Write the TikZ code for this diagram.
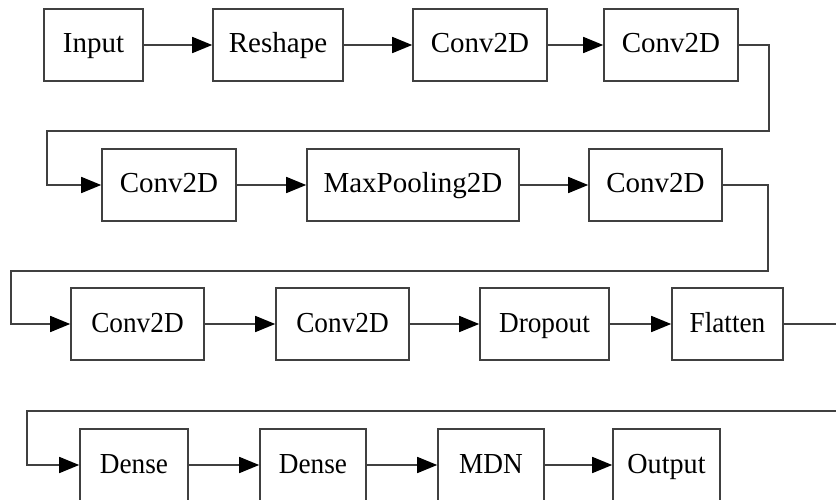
\documentclass[tikz,border=0pt]{standalone}
\usepackage{fontspec}
\setmainfont{Liberation Serif}
\newfontfamily\lserif{Liberation Serif}
\usetikzlibrary{arrows.meta}
\tikzset{
  layer/.style={draw=black!75, line width=1.6pt, rectangle, minimum height=72pt, inner sep=0pt,
    text height=21pt, text depth=5pt,
    font=\lserif\fontsize{29}{32}\selectfont, text=black},
  conn/.style={draw=black!75, line width=1.6pt, -{Triangle[length=20pt,width=16pt,fill=black,color=black]}},
}
\newcommand{\nr}[1]{\scalebox{0.94}[1]{#1}}
\begin{document}
\begin{tikzpicture}[x=1pt,y=-1pt]
\useasboundingbox (0,0) rectangle (836,500);
\clip (0,0) rectangle (836,500);
% row 1
\node[layer, minimum width=99pt]  (in)  at (93.5,45) {Input};
\node[layer, minimum width=130pt] (rs)  at (278,45) {Reshape};
\node[layer, minimum width=134pt] (c1)  at (480,45) {Conv2D};
\node[layer, minimum width=134pt] (c2)  at (671,45) {Conv2D};
% row 2
\node[layer, minimum width=134pt] (c3)  at (169,185) {Conv2D};
\node[layer, minimum width=212pt] (mp)  at (413,185) {MaxPooling2D};
\node[layer, minimum width=133pt] (c4)  at (655.5,185) {Conv2D};
% row 3
\node[layer, minimum width=133pt] (c5)  at (137.5,324) {\nr{Conv2D}};
\node[layer, minimum width=133pt] (c6)  at (342.5,324) {\nr{Conv2D}};
\node[layer, minimum width=129pt] (dr)  at (544.5,324) {\nr{Dropout}};
\node[layer, minimum width=111pt] (fl)  at (727.5,324) {\nr{Flatten}};
% row 4
\node[layer, minimum width=108pt] (d1)  at (134,465) {\nr{Dense}};
\node[layer, minimum width=106pt] (d2)  at (313,465) {\nr{Dense}};
\node[layer, minimum width=106pt] (md)  at (491,465) {\nr{MDN}};
\node[layer, minimum width=107pt] (out) at (666.5,465) {\scalebox{0.97}[1]{Output}};
% turn points
\coordinate (t1a) at (769,45);  \coordinate (t1b) at (769,131);
\coordinate (t1c) at (47,131);  \coordinate (t1d) at (47,185);
\coordinate (t2a) at (768,185); \coordinate (t2b) at (768,271);
\coordinate (t2c) at (11,271);  \coordinate (t2d) at (11,324);
\coordinate (t3a) at (850,324); \coordinate (t3b) at (850,411);
\coordinate (t3c) at (27,411);  \coordinate (t3d) at (27,465);
% connectors
\draw[conn] (in) -- (rs);
\draw[conn] (rs) -- (c1);
\draw[conn] (c1) -- (c2);
\draw[conn] (c2.east) -- (t1a) -- (t1b) -- (t1c) -- (t1d) -- (c3.west);
\draw[conn] (c3) -- (mp);
\draw[conn] (mp) -- (c4);
\draw[conn] (c4.east) -- (t2a) -- (t2b) -- (t2c) -- (t2d) -- (c5.west);
\draw[conn] (c5) -- (c6);
\draw[conn] (c6) -- (dr);
\draw[conn] (dr) -- (fl);
\draw[conn] (fl.east) -- (t3a) -- (t3b) -- (t3c) -- (t3d) -- (d1.west);
\draw[conn] (d1) -- (d2);
\draw[conn] (d2) -- (md);
\draw[conn] (md) -- (out);
\end{tikzpicture}
\end{document}
